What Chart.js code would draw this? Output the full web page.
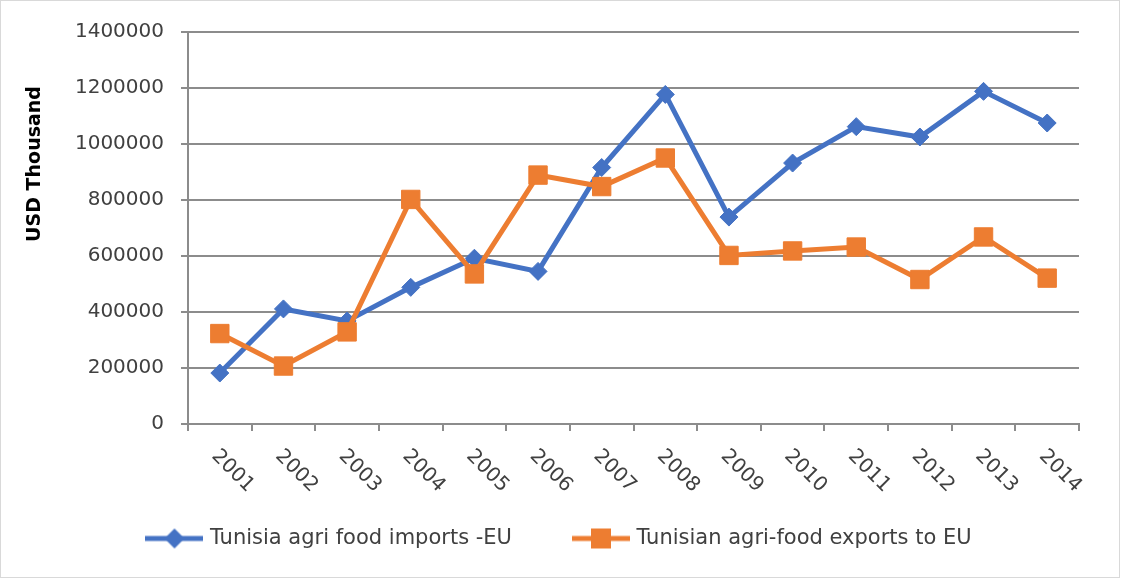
<!DOCTYPE html>
<html>
<head>
<meta charset="utf-8">
<script src="https://cdn.jsdelivr.net/npm/chart.js@4"></script>
<style>
  html, body { margin: 0; padding: 0; background: #fff; }
  #wrap { width: 1121px; height: 579px; }
</style>
</head>
<body>
<div id="wrap"><canvas id="chart" width="1121" height="579"></canvas></div>
<script>
const years = ["2001", "2002", "2003", "2004", "2005", "2006", "2007", "2008", "2009", "2010", "2011", "2012", "2013", "2014"];
const importsEU = [182000, 411000, 368000, 488000, 592000, 545000, 916000, 1177000, 739000, 932000, 1062000, 1025000, 1188000, 1075000];
const exportsEU = [323000, 207000, 329000, 802000, 536000, 889000, 848000, 950000, 602000, 618000, 632000, 516000, 668000, 521000];
const yTicks = [0, 200000, 400000, 600000, 800000, 1000000, 1200000, 1400000];

const BLUE = "#4472C4";
const ORANGE = "#ED7D31";
const GRID = "#8c8c8c";
const TEXT = "#404040";
const FONT = "'DejaVu Sans', sans-serif";

// little line + marker images for the legend
function legendIcon(color, shape) {
  const c = document.createElement("canvas");
  c.width = 58; c.height = 22;
  const g = c.getContext("2d");
  g.strokeStyle = color;
  g.lineWidth = 5;
  g.beginPath(); g.moveTo(0, 11); g.lineTo(58, 11); g.stroke();
  g.fillStyle = color;
  g.beginPath();
  if (shape === "diamond") {
    g.moveTo(29, 1); g.lineTo(39, 11); g.lineTo(29, 21); g.lineTo(19, 11);
  } else {
    g.rect(19, 1, 20, 20);
  }
  g.closePath(); g.fill();
  return c;
}
const icons = [legendIcon(BLUE, "diamond"), legendIcon(ORANGE, "square")];

const extras = {
  id: "extras",
  afterDraw(chart) {
    const ctx = chart.ctx;
    const x = chart.scales.x;
    ctx.save();
    // outer frame
    ctx.strokeStyle = "#d9d9d9";
    ctx.lineWidth = 1;
    ctx.strokeRect(0.5, 0.5, chart.width - 2, chart.height - 2);
    // rotated year labels
    ctx.fillStyle = TEXT;
    ctx.font = "20px " + FONT;
    ctx.textAlign = "left";
    ctx.textBaseline = "top";
    years.forEach((label, i) => {
      ctx.save();
      ctx.translate(x.getPixelForValue(i) + 2, x.top + 22);
      ctx.rotate(Math.PI / 4);
      ctx.fillText(label, 0, 0);
      ctx.restore();
    });
    // y axis title
    ctx.fillStyle = "#000";
    ctx.font = "bold 19px " + FONT;
    ctx.textAlign = "center";
    ctx.textBaseline = "middle";
    ctx.translate(35, 164);
    ctx.rotate(-Math.PI / 2);
    ctx.fillText("USD Thousand", 0, 0);
    ctx.restore();
  }
};

new Chart(document.getElementById("chart").getContext("2d"), {
  type: "line",
  data: {
    labels: years,
    datasets: [
      {
        label: "Tunisia agri food imports -EU",
        data: importsEU,
        borderColor: BLUE,
        backgroundColor: BLUE,
        borderWidth: 5,
        pointStyle: "rectRot",
        pointRadius: 9,
        pointBorderWidth: 1,
        tension: 0,
        order: 1
      },
      {
        label: "Tunisian agri-food exports to EU",
        data: exportsEU,
        borderColor: ORANGE,
        backgroundColor: ORANGE,
        borderWidth: 5,
        pointStyle: "rect",
        pointRadius: 13,
        pointBorderWidth: 1,
        tension: 0,
        order: 0
      }
    ]
  },
  options: {
    responsive: false,
    animation: false,
    layout: {
      padding: { left: 42, right: 42, top: 32, bottom: 20 }
    },
    plugins: {
      tooltip: { enabled: false },
      title: { display: false },
      legend: {
        position: "bottom",
        labels: {
          font: { size: 21, family: FONT },
          color: TEXT,
          usePointStyle: true,
          pointStyleWidth: 50,
          padding: 64,
          sort: (a, b) => a.datasetIndex - b.datasetIndex,
          generateLabels: chart => {
            const items = Chart.defaults.plugins.legend.labels.generateLabels(chart);
            items.forEach(it => { it.pointStyle = icons[it.datasetIndex]; });
            return items;
          }
        }
      }
    },
    scales: {
      x: {
        type: "category",
        offset: true,
        grid: {
          offset: true,
          drawOnChartArea: false,
          drawTicks: true,
          tickLength: 7,
          color: GRID,
          lineWidth: 2
        },
        border: { display: true, color: GRID, width: 2 },
        ticks: { display: false },
        afterFit: scale => { scale.height = 40; }
      },
      y: {
        min: 0,
        max: 1400000,
        afterBuildTicks: scale => { scale.ticks = yTicks.map(v => ({ value: v })); },
        grid: { color: GRID, lineWidth: 2, tickLength: 7 },
        border: { display: true, color: GRID, width: 2 },
        ticks: {
          font: { size: 20, family: FONT },
          color: TEXT,
          padding: 17,
          callback: v => String(v)
        },
        afterFit: scale => { scale.width = 146; }
      }
    }
  },
  plugins: [extras]
});
</script>
</body>
</html>
